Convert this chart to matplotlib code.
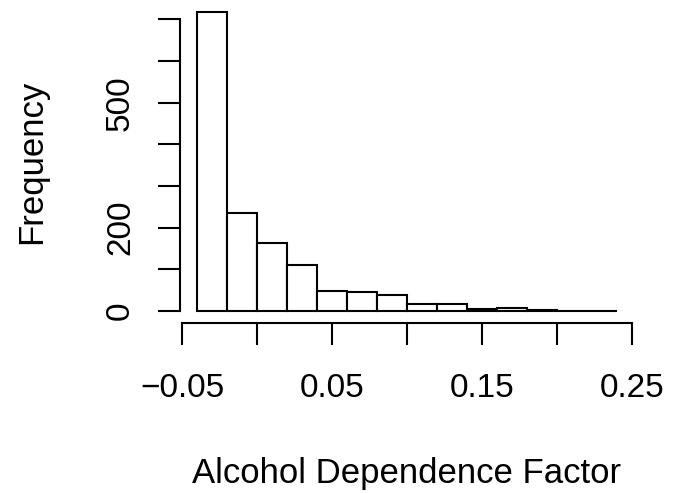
import matplotlib
matplotlib.use("Agg")
import matplotlib.pyplot as plt
import numpy as np

# Histogram of the alcohol dependence factor
bin_edges = [-0.04, -0.02, 0.00, 0.02, 0.04, 0.06, 0.08, 0.10,
             0.12, 0.14, 0.16, 0.18, 0.20, 0.22, 0.24]
counts = [718, 236, 164, 110, 47, 46, 39, 16, 18, 5, 7, 2, 1, 1]

x_ticks = [-0.05, 0.00, 0.05, 0.10, 0.15, 0.20, 0.25]
x_tick_labels = ["\u22120.05", "", "0.05", "", "0.15", "", "0.25"]
y_ticks = [0, 100, 200, 300, 400, 500, 600, 700]
y_tick_labels = ["0", "", "200", "", "", "500", "", ""]

plt.rcParams["font.family"] = ["Liberation Sans", "DejaVu Sans"]

W, H = 680, 494
fig = plt.figure(figsize=(W / 100, H / 100), dpi=100)
left_px, right_px, top_px, bot_px = 180.2, 633.8, 0.0, 323.0
ax = fig.add_axes([left_px / W, 1 - bot_px / H,
                   (right_px - left_px) / W, (bot_px - top_px) / H])

edges = np.array(bin_edges)
ax.bar(edges[:-1], counts, width=np.diff(edges), align="edge",
       facecolor="white", edgecolor="black", linewidth=1.5)

# R-style axis ranges: data range padded by 4% on each side
xr = edges[-1] - edges[0]
ax.set_xlim(edges[0] - 0.04 * xr, edges[-1] + 0.04 * xr)
ymax = max(counts)
ax.set_ylim(-0.04 * ymax, ymax * 1.04)

for s in ("top", "right"):
    ax.spines[s].set_visible(False)
for s in ("left", "bottom"):
    ax.spines[s].set_linewidth(1.5)
ax.spines["bottom"].set_bounds(x_ticks[0], x_ticks[-1])
ax.spines["left"].set_bounds(y_ticks[0], y_ticks[-1])

ax.set_xticks(x_ticks)
ax.set_xticklabels(x_tick_labels)
ax.set_yticks(y_ticks)
ax.set_yticklabels(y_tick_labels, rotation=90, va="center")
ax.tick_params(axis="both", length=15.8, width=1.5, labelsize=24,
               direction="out", color="black")
ax.tick_params(axis="x", pad=20)
ax.tick_params(axis="y", pad=16)

fig.text(407 / W, 1 - 483 / H, "Alcohol Dependence Factor",
         ha="center", va="baseline", fontsize=25)
fig.text(48 / W, 1 - 162 / H, "Frequency", rotation=90,
         ha="right", va="center", fontsize=25)

fig.savefig("out.png", dpi=100)
